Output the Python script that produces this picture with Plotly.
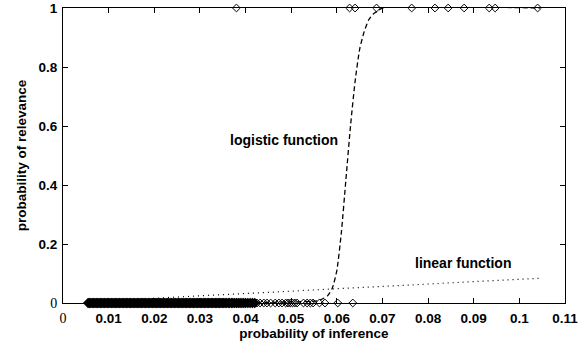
import plotly.graph_objects as go

# Observations that were not relevant (probability of relevance = 0)
irrelevant_x = [
    0.0055, 0.0058, 0.0061, 0.0064, 0.0067, 0.0070, 0.0073, 0.0076, 0.0079, 0.0082,
    0.0085, 0.0088, 0.0091, 0.0094, 0.0097, 0.0100, 0.0103, 0.0106, 0.0109, 0.0112,
    0.0115, 0.0118, 0.0121, 0.0124, 0.0127, 0.0130, 0.0133, 0.0136, 0.0139, 0.0142,
    0.0145, 0.0148, 0.0151, 0.0154, 0.0157, 0.0160, 0.0163, 0.0166, 0.0169, 0.0172,
    0.0175, 0.0178, 0.0181, 0.0184, 0.0187, 0.0190, 0.0193, 0.0196, 0.0199, 0.0202,
    0.0205, 0.0208, 0.0211, 0.0214, 0.0217, 0.0220, 0.0223, 0.0226, 0.0229, 0.0232,
    0.0235, 0.0238, 0.0241, 0.0244, 0.0247, 0.0250, 0.0253, 0.0256, 0.0259, 0.0262,
    0.0265, 0.0268, 0.0271, 0.0274, 0.0277, 0.0280, 0.0283, 0.0286, 0.0289, 0.0292,
    0.0295, 0.0298, 0.0301, 0.0304, 0.0307, 0.0310, 0.0313, 0.0316, 0.0319, 0.0322,
    0.0325, 0.0328, 0.0331, 0.0334, 0.0337, 0.0340, 0.0343, 0.0346, 0.0349, 0.0352,
    0.0355, 0.0358, 0.0362, 0.0365, 0.0369, 0.0372, 0.0376, 0.0380, 0.0384, 0.0388,
    0.0392, 0.0396, 0.0400, 0.0405, 0.0410, 0.0415, 0.0420,
    0.0425, 0.0432, 0.0440, 0.0447, 0.0455, 0.0465, 0.0473, 0.0480, 0.0488, 0.0493,
    0.0498, 0.0503, 0.0508, 0.0513, 0.0527, 0.0535, 0.0542, 0.0548, 0.0562, 0.0574,
    0.0602, 0.0635,
]
irrelevant_y = [0] * len(irrelevant_x)

# Observations that were relevant (probability of relevance = 1)
relevant_x = [0.0380, 0.0628, 0.0640, 0.0687, 0.0764, 0.0815, 0.0844, 0.0879, 0.0934, 0.0947, 0.1040]
relevant_y = [1] * len(relevant_x)

# Logistic function
logistic_x = [0.0055, 0.0560, 0.0570, 0.0580, 0.0590, 0.0600, 0.0610, 0.0620, 0.0630,
              0.0640, 0.0650, 0.0660, 0.0670, 0.0680, 0.0690, 0.0700, 0.1045]
logistic_y = [0.0, 0.008, 0.015, 0.025, 0.05, 0.11, 0.24, 0.42, 0.60,
              0.75, 0.86, 0.92, 0.96, 0.98, 0.99, 1.0, 1.0]

# Linear function
linear_x = [0.0055, 0.1045]
linear_y = [0.0045, 0.084]

x_tickvals = [0, 0.01, 0.02, 0.03, 0.04, 0.05, 0.06, 0.07, 0.08, 0.09, 0.1, 0.11]
x_ticklabels = ["0", "0.01", "0.02", "0.03", "0.04", "0.05", "0.06", "0.07", "0.08", "0.09", "0.1", "0.11"]
y_tickvals = [0, 0.2, 0.4, 0.6, 0.8, 1]
y_ticklabels = ["0", "0.2", "0.4", "0.6", "0.8", "1"]

SANS = "Liberation Sans, Arial, Helvetica, sans-serif"
serif = "font-family:'Liberation Serif','Times New Roman',serif;font-weight:normal;font-size:14px;fill:#000000;color:#000000"

def fmt(labels):
    out = []
    for t in labels:
        if t == "0":
            out.append('<span style="%s">0</span>' % serif)
        else:
            out.append(t)
    return out

# dense cluster drawn with slightly heavier outlines so it reads as a solid band
dense_widths = [1.9 if v < 0.0422 else 1.0 for v in irrelevant_x]

fig = go.Figure()
fig.add_trace(go.Scatter(x=linear_x, y=linear_y, mode="lines",
                         line=dict(color="black", width=1.2, dash="1px,4px"),
                         showlegend=False, hoverinfo="skip"))
fig.add_trace(go.Scatter(x=logistic_x, y=logistic_y, mode="lines",
                         line=dict(color="black", width=1.3, dash="5px,3px", shape="spline", smoothing=0.6),
                         showlegend=False, hoverinfo="skip"))
fig.add_trace(go.Scatter(x=irrelevant_x, y=irrelevant_y, mode="markers", cliponaxis=False,
                         marker=dict(symbol="diamond-open", size=6, color="black",
                                     line=dict(width=dense_widths, color="black")),
                         showlegend=False))
fig.add_trace(go.Scatter(x=relevant_x, y=relevant_y, mode="markers", cliponaxis=False,
                         marker=dict(symbol="diamond-open", size=6, color="black",
                                     line=dict(width=1.0, color="black")),
                         showlegend=False))

axis_common = dict(showline=True, linecolor="black", linewidth=1, mirror="ticks",
                   ticks="inside", ticklen=5, tickcolor="black", tickwidth=1,
                   showgrid=False, zeroline=False, automargin=False, ticklabeloverflow="allow",
                   tickfont=dict(family=SANS, size=13.5, color="black", weight="bold"))

fig.update_xaxes(range=[0, 0.11], tickvals=x_tickvals, ticktext=fmt(x_ticklabels), ticklabelstandoff=3,
                 title=dict(text="probability of inference", standoff=3,
                            font=dict(family=SANS, size=13.5, color="black", weight="bold")),
                 **axis_common)
fig.update_yaxes(range=[0, 1], tickvals=y_tickvals, ticktext=fmt(y_ticklabels), ticklabelstandoff=2,
                 title=dict(text="probability of relevance", standoff=8,
                            font=dict(family=SANS, size=13.5, color="black", weight="bold")),
                 **axis_common)

fig.add_annotation(x=0.0485, y=0.553, xref="x", yref="y", text="logistic function", showarrow=False,
                   font=dict(family=SANS, size=14, color="black", weight="bold"))
fig.add_annotation(x=0.0877, y=0.137, xref="x", yref="y", text="linear function", showarrow=False,
                   font=dict(family=SANS, size=14, color="black", weight="bold"))

fig.update_layout(width=578, height=350, margin=dict(l=63, r=13, t=8, b=47, autoexpand=False),
                  plot_bgcolor="white", paper_bgcolor="white")

fig.write_html("out.html", config={"displayModeBar": False},
               post_script="document.body.style.margin='0';document.body.style.overflow='hidden';")
